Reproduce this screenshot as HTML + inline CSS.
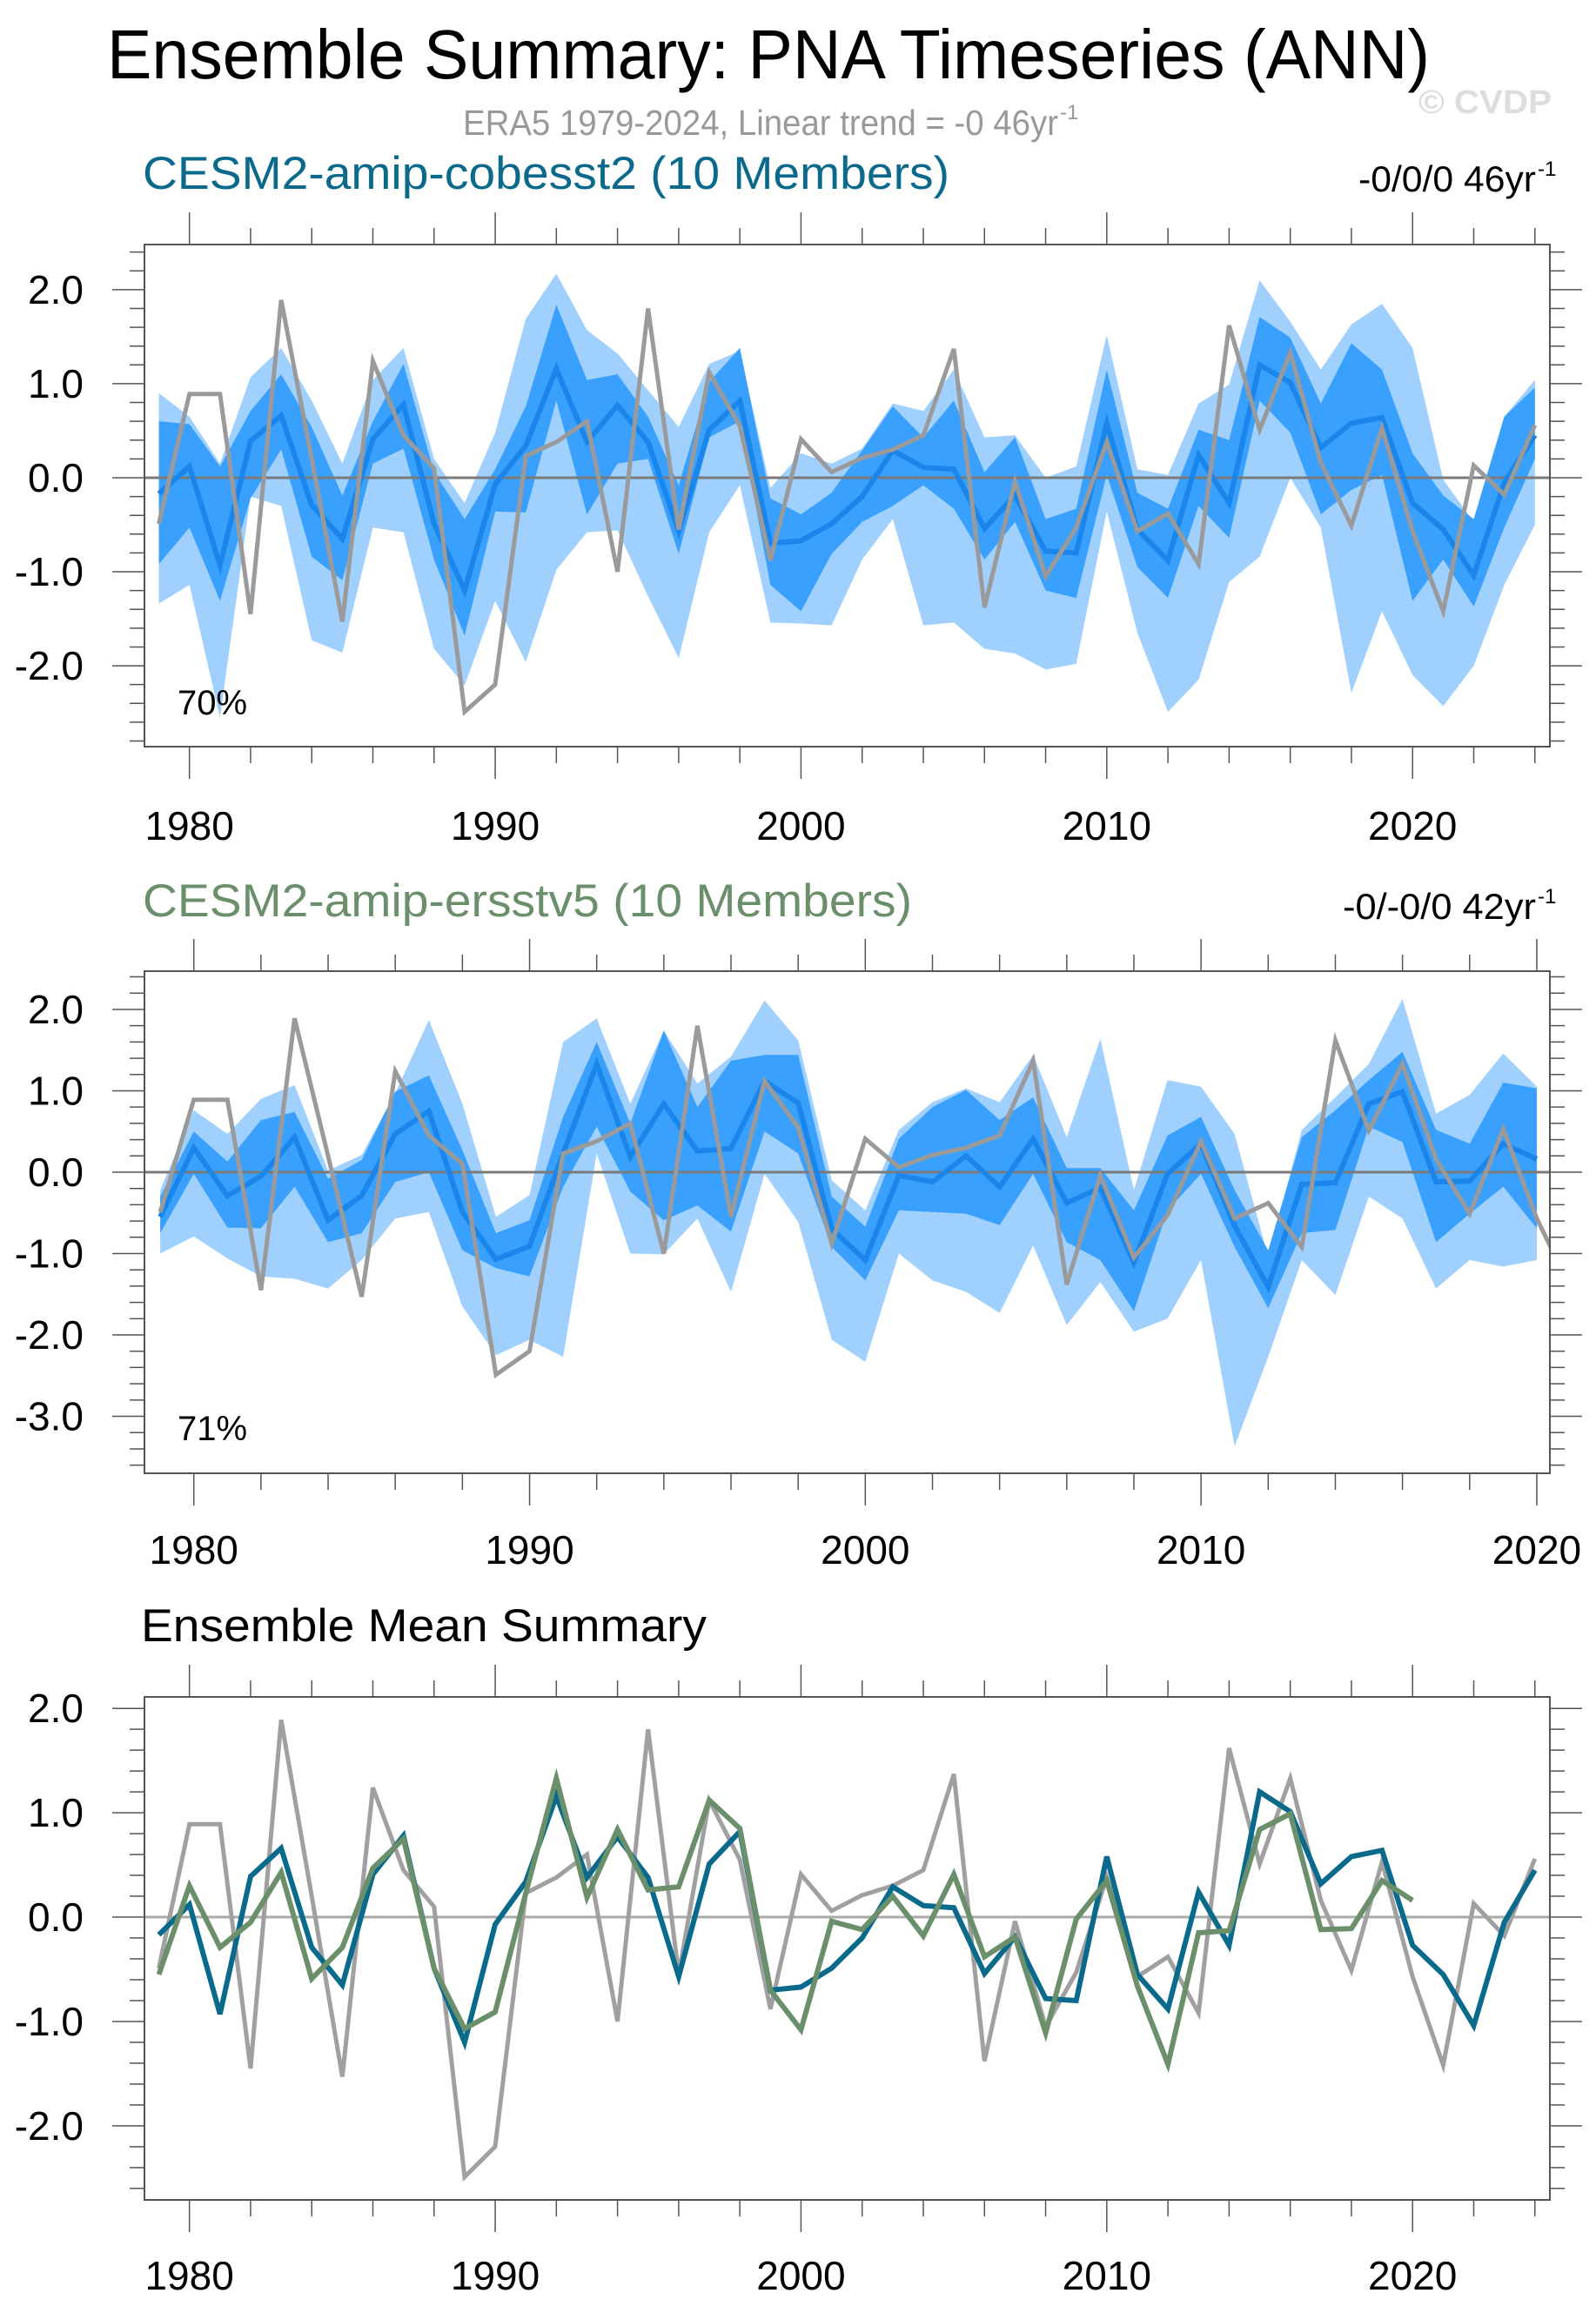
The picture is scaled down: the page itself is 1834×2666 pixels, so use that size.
<!DOCTYPE html>
<html><head><meta charset="utf-8"><style>
html,body{margin:0;padding:0;background:#fff;}
svg{display:block;font-family:"Liberation Sans",Arial,sans-serif;}
</style></head><body>
<svg id="chart" width="1834" height="2666" viewBox="0 0 1834 2666" xmlns="http://www.w3.org/2000/svg">
<rect x="0" y="0" width="1834" height="2666" fill="#fff"/>
<text x="123" y="90" font-size="80" textLength="1520" lengthAdjust="spacingAndGlyphs" fill="#000">Ensemble Summary: PNA Timeseries (ANN)</text>
<text x="532" y="155" font-size="41" textLength="684" lengthAdjust="spacingAndGlyphs" fill="#999">ERA5 1979-2024, Linear trend = -0 46yr</text>
<text x="1218" y="137" font-size="24" fill="#999">-1</text>
<text x="1630" y="130" font-size="38" font-weight="bold" textLength="153" lengthAdjust="spacingAndGlyphs" fill="#ddd">© CVDP</text>
<g id="plots"></g>
</svg>
<script>
// ---------- data ----------
const yearsAll = [1979,1980,1981,1982,1983,1984,1985,1986,1987,1988,1989,1990,1991,1992,1993,1994,1995,1996,1997,1998,1999,2000,2001,2002,2003,2004,2005,2006,2007,2008,2009,2010,2011,2012,2013,2014,2015,2016,2017,2018,2019,2020,2021,2022,2023,2024];
const yearsErsst = [1979,1980,1981,1982,1983,1984,1985,1986,1987,1988,1989,1990,1991,1992,1993,1994,1995,1996,1997,1998,1999,2000,2001,2002,2003,2004,2005,2006,2007,2008,2009,2010,2011,2012,2013,2014,2015,2016,2017,2018,2019,2020];
const era5 = [-0.49,0.89,0.89,-1.45,1.89,0.2,-1.53,1.24,0.45,0.1,-2.49,-2.2,0.23,0.38,0.6,-1.0,1.8,-0.55,1.12,0.55,-0.88,0.41,0.06,0.21,0.3,0.45,1.37,-1.38,-0.04,-1.05,-0.53,0.38,-0.57,-0.38,-0.92,1.62,0.51,1.33,0.16,-0.51,0.53,-0.57,-1.42,0.13,-0.18,0.56];
const cobMean = [-0.17,0.12,-0.93,0.39,0.66,-0.29,-0.65,0.41,0.78,-0.49,-1.2,-0.07,0.34,1.16,0.38,0.77,0.38,-0.57,0.51,0.82,-0.7,-0.67,-0.49,-0.2,0.29,0.11,0.09,-0.54,-0.19,-0.78,-0.8,0.58,-0.55,-0.88,0.24,-0.27,1.2,1.01,0.32,0.58,0.64,-0.27,-0.55,-1.04,-0.05,0.45];
const cobMaxV = [0.9,0.65,0.15,1.07,1.38,0.82,0.15,1.04,1.38,0.2,-0.27,0.48,1.69,2.17,1.57,1.32,0.93,0.54,1.21,1.35,-0.11,0.26,0.15,0.31,0.79,0.71,1.15,0.43,0.45,0.0,0.12,1.52,0.09,0.03,0.79,0.99,2.1,1.66,1.15,1.63,1.85,1.38,-0.02,-0.47,0.65,1.04];
const cobMinV = [-1.34,-1.14,-2.55,-0.2,-0.3,-1.73,-1.86,-0.53,-0.58,-1.82,-2.21,-1.31,-1.96,-0.98,-0.58,-0.56,-1.26,-1.92,-0.58,-0.08,-1.54,-1.55,-1.57,-0.87,-0.44,-1.57,-1.54,-1.82,-1.87,-2.04,-1.98,-0.36,-1.65,-2.49,-2.15,-1.11,-0.84,0.0,-0.53,-2.29,-1.42,-2.1,-2.43,-2.0,-1.14,-0.5];
const cobHiV = [0.6,0.57,0.12,0.71,1.1,0.54,-0.19,0.6,1.21,0.06,-0.44,0.09,0.76,1.84,1.04,1.1,0.65,-0.08,1.02,1.38,-0.22,-0.39,-0.16,0.29,0.76,0.43,0.82,0.06,0.43,-0.44,-0.33,1.15,-0.16,-0.33,0.51,0.4,1.71,1.49,0.79,1.43,1.15,0.26,-0.19,-0.44,0.65,0.96];
const cobLoV = [-0.92,-0.53,-1.31,-0.22,0.3,-0.84,-1.09,0.15,0.31,-0.87,-1.68,-0.36,-0.37,0.82,-0.39,0.15,0.2,-0.81,0.43,0.6,-1.14,-1.42,-0.81,-0.47,-0.3,-0.08,-0.33,-0.87,-0.47,-1.2,-1.28,0.03,-0.95,-1.28,-0.3,-0.64,0.82,0.48,-0.39,-0.13,0.03,-1.31,-0.87,-1.37,-0.53,0.2];
const ersMean = [-0.55,0.3,-0.29,-0.05,0.43,-0.59,-0.29,0.47,0.75,-0.49,-1.07,-0.91,0.23,1.33,0.19,0.84,0.26,0.29,1.12,0.85,-0.7,-1.08,-0.04,-0.12,0.2,-0.18,0.41,-0.38,-0.19,-1.11,-0.02,0.35,-0.66,-1.41,-0.15,-0.13,0.84,0.99,-0.12,-0.11,0.35,0.16];
const ersMaxV = [-0.22,0.76,0.47,0.9,1.07,0.02,0.21,0.97,1.87,0.84,-0.55,-0.28,1.6,1.89,0.84,1.74,1.09,1.42,2.11,1.62,-0.1,-0.47,0.52,0.86,1.03,0.86,1.44,0.43,1.64,-0.22,1.13,1.05,0.47,-1.04,0.52,0.92,1.33,2.13,0.72,0.95,1.46,1.05];
const ersMinV = [-1.0,-0.79,-1.06,-1.28,-1.31,-1.43,-1.08,-0.57,-0.49,-1.65,-2.25,-2.06,-2.27,0.23,-1.0,-1.01,-0.57,-1.47,-0.02,-0.61,-2.06,-2.33,-1.0,-1.33,-1.47,-1.73,-0.9,-1.88,-1.35,-1.96,-1.8,-1.08,-3.37,-2.27,-1.08,-1.51,-0.3,-0.57,-1.43,-1.08,-1.16,-1.08];
const ersHiV = [-0.3,0.5,0.13,0.64,0.74,-0.08,0.15,0.99,1.19,0.27,-0.75,-0.59,0.68,1.6,0.6,1.74,0.8,1.37,1.44,1.44,-0.3,-0.67,0.41,0.8,1.01,0.64,0.92,0.05,0.05,-0.47,0.45,0.68,-0.22,-0.96,0.43,0.76,1.13,1.48,0.52,0.35,1.1,1.03];
const ersLoV = [-0.75,-0.02,-0.68,-0.69,-0.18,-0.86,-0.75,-0.12,0.0,-0.96,-1.18,-1.28,-0.18,0.56,-0.24,-0.59,-0.41,-0.73,0.5,0.23,-0.92,-1.33,-0.47,-0.49,-0.51,-0.65,-0.02,-0.86,-1.08,-1.71,-0.47,-0.02,-0.92,-1.67,-0.75,-0.71,0.56,0.37,-0.86,-0.51,-0.18,-0.69];
const xTickLabels = ["1980","1990","2000","2010","2020"];
const xTickYears = [1980,1990,2000,2010,2020];
const yTicks1 = [2,1,0,-1,-2];
const yTicks2 = [2,1,0,-1,-2,-3];
const yTicks3 = [2,1,0,-1,-2];

// ---------- drawing ----------
const NS = "http://www.w3.org/2000/svg";
const root = document.getElementById('plots');
function mk(tag, attrs, parent){
  const e = document.createElementNS(NS, tag);
  for (const k in attrs) e.setAttribute(k, attrs[k]);
  (parent||root).appendChild(e);
  return e;
}
const L = 166, R = 1781;

function panel(cfg){
  const g = mk('g', {});
  
  
  const T = cfg.top, B = cfg.bottom;
  const xs = yr => L + (yr - cfg.xmin) / (cfg.xmax - cfg.xmin) * (R - L);
  const ys = v => T + (cfg.ymax - v) / (cfg.ymax - cfg.ymin) * (B - T);
  const clipId = cfg.name + '-clip';
  const defs = mk('defs', {}, g);
  const cp = mk('clipPath', {id: clipId}, defs);
  mk('rect', {x: L, y: T, width: R - L, height: B - T}, cp);
  const plot = mk('g', {'clip-path': 'url(#' + clipId + ')'}, g);

  function band(years, hi, lo, color, nm){
    let d = '';
    years.forEach((y,i)=>{ d += (i? 'L':'M') + xs(y).toFixed(1) + ',' + ys(hi[i]).toFixed(1); });
    for (let i = years.length - 1; i >= 0; i--) d += 'L' + xs(years[i]).toFixed(1) + ',' + ys(lo[i]).toFixed(1);
    const p = mk('path', {d: d + 'Z', fill: color}, plot);
    
    
  }
  function line(years, vals, color, w, nm){
    const pts = years.map((y,i)=> xs(y).toFixed(1) + ',' + ys(vals[i]).toFixed(1)).join(' ');
    const p = mk('polyline', {points: pts, fill: 'none', stroke: color, 'stroke-width': w, 'stroke-linejoin': 'miter'}, plot);
    
    
  }
  if (cfg.bands) {
    band(cfg.years, cfg.bands.max, cfg.bands.min, '#a0d0fe', 'ensemble-range-band');
    band(cfg.years, cfg.bands.hi, cfg.bands.lo, '#3aa0fe', 'ensemble-spread-band');
  }
  const zl = mk('line', {x1: L, x2: R, y1: ys(0), y2: ys(0), stroke: cfg.zeroColor, 'stroke-width': 3}, plot);
  
  
  cfg.lines.forEach(ln => line(ln.years, ln.vals, ln.color, ln.w, ln.name));

  const fr = mk('rect', {x: L, y: T, width: R - L, height: B - T, fill: 'none', stroke: '#555', 'stroke-width': 2}, g);
  
  
  for (let yr = 1980; yr <= cfg.xmax; yr += 2) {
    const major = (yr % 10 === 0);
    const len = major ? 37 : 19;
    const x = xs(yr);
    mk('line', {x1: x, x2: x, y1: T, y2: T - len, stroke: '#555', 'stroke-width': 1.5}, g);
    mk('line', {x1: x, x2: x, y1: B, y2: B + len, stroke: '#555', 'stroke-width': 1.5}, g);
  }
  xTickYears.forEach((yr,i)=>{
    if (yr > cfg.xmax + 0.5) return;
    const t = mk('text', {x: xs(yr), y: cfg.xlabelY, 'font-size': 46, 'text-anchor': 'middle', fill: '#000'}, g);
    t.textContent = xTickLabels[i];
    
    
  });
  for (let k = Math.ceil(cfg.ymin * 5); k <= Math.floor(cfg.ymax * 5); k++) {
    const v = k / 5, y = ys(v);
    const major = (k % 5 === 0);
    const len = major ? 37 : 17;
    mk('line', {x1: L, x2: L - len, y1: y, y2: y, stroke: '#555', 'stroke-width': 1.5}, g);
    mk('line', {x1: R, x2: R + len, y1: y, y2: y, stroke: '#555', 'stroke-width': 1.5}, g);
  }
  cfg.yticks.forEach(v=>{
    const t = mk('text', {x: 96, y: ys(v) + 16, 'font-size': 46, 'text-anchor': 'end', fill: '#000'}, g);
    t.textContent = v.toFixed(1);
    
    
  });
  const tt = mk('text', {x: cfg.titleX, y: cfg.titleY, 'font-size': 53, fill: cfg.titleColor, textLength: cfg.titleLen, lengthAdjust: 'spacingAndGlyphs'}, g);
  tt.textContent = cfg.title;
  
  
  if (cfg.trend) {
    const tr = mk('text', {x: cfg.trendX, y: cfg.titleY + 3, 'font-size': 42, fill: '#000', textLength: cfg.trendLen, lengthAdjust: 'spacingAndGlyphs'}, g);
    tr.textContent = cfg.trend;
    
    
    const sp = mk('text', {x: 1767, y: cfg.titleY - 15, 'font-size': 24, fill: '#000'}, g);
    sp.textContent = '-1';
    
    
  }
  if (cfg.pct) {
    const pc = mk('text', {x: 204, y: cfg.pctY, 'font-size': 40, fill: '#000'}, g);
    pc.textContent = cfg.pct;
    
    
  }
}

panel({name:'cobesst2-panel', top:281, bottom:858, xmin:1978.53, xmax:2024.49, ymin:-2.86, ymax:2.48,
  years: yearsAll, bands:{max:cobMaxV, min:cobMinV, hi:cobHiV, lo:cobLoV}, zeroColor:'#7a7a7a',
  lines:[{years:yearsAll, vals:cobMean, color:'#1a86ec', w:6, name:'ensemble-mean-line'},
         {years:yearsAll, vals:era5, color:'#9a9a9a', w:5, name:'era5-line'}],
  xlabelY:965, yticks:yTicks1, title:'CESM2-amip-cobesst2 (10 Members)', titleX:164, titleY:217, titleLen:927,
  titleColor:'#0b6a8b', trend:'-0/0/0 46yr', trendX:1561, trendLen:204, pct:'70%', pctY:821});

panel({name:'ersstv5-panel', top:1116, bottom:1693, xmin:1978.53, xmax:2020.39, ymin:-3.7, ymax:2.47,
  years: yearsErsst, bands:{max:ersMaxV, min:ersMinV, hi:ersHiV, lo:ersLoV}, zeroColor:'#7a7a7a',
  lines:[{years:yearsErsst, vals:ersMean, color:'#1a86ec', w:6, name:'ensemble-mean-line'},
         {years:yearsAll, vals:era5, color:'#9a9a9a', w:5, name:'era5-line'}],
  xlabelY:1797, yticks:yTicks2, title:'CESM2-amip-ersstv5 (10 Members)', titleX:164, titleY:1053, titleLen:884,
  titleColor:'#6a8f6a', trend:'-0/-0/0 42yr', trendX:1543, trendLen:222, pct:'71%', pctY:1655});

panel({name:'ensemble-mean-panel', top:1950, bottom:2528, xmin:1978.53, xmax:2024.49, ymin:-2.71, ymax:2.11,
  years: yearsAll, bands:null, zeroColor:'#aaaaaa',
  lines:[{years:yearsAll, vals:era5, color:'#a0a0a0', w:5, name:'era5-line'},
         {years:yearsAll, vals:cobMean, color:'#0a6a8c', w:6, name:'cobesst2-mean-line'},
         {years:yearsErsst, vals:ersMean, color:'#6a8f6a', w:6, name:'ersstv5-mean-line'}],
  xlabelY:2631, yticks:yTicks3, title:'Ensemble Mean Summary', titleX:162, titleY:1886, titleLen:650,
  titleColor:'#000', trend:null, pct:null});
</script>
</body></html>
